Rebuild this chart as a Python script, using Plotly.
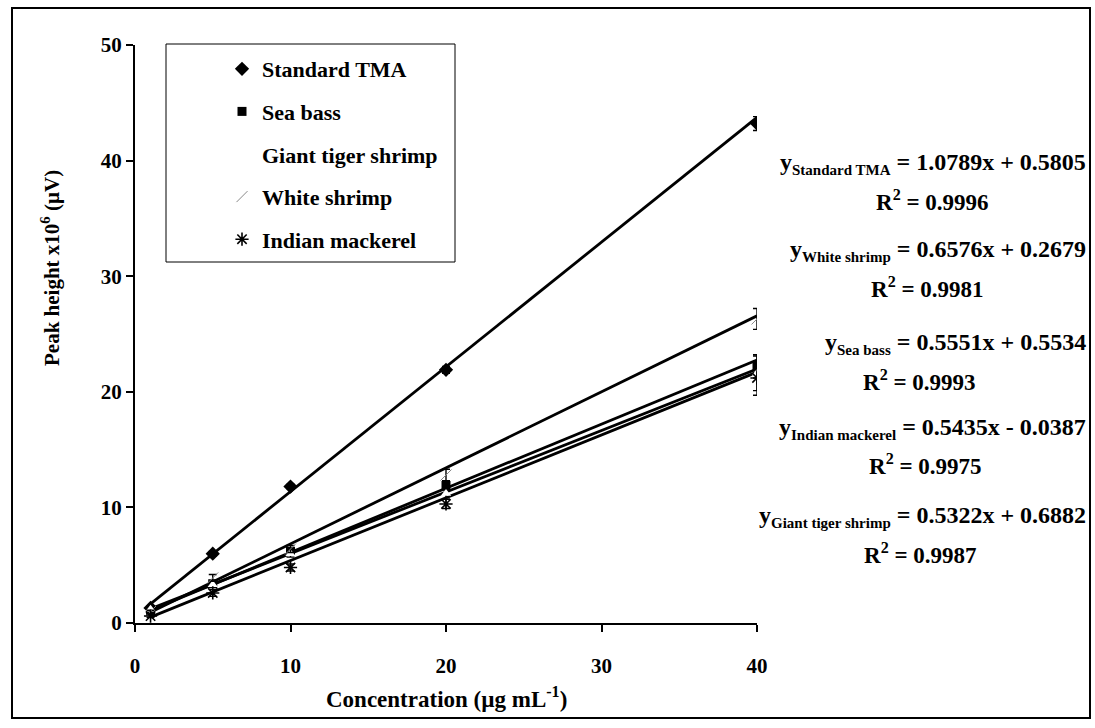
import plotly.graph_objects as go

# Concentrations (µg/mL)
conc = [1, 5, 10, 20, 40]

# Peak heights (x10^6 µV) and standard deviations for each sample
std_tma = [1.3, 6.0, 11.8, 21.9, 43.2]
std_tma_err = [0.2, 0.2, 0.2, 0.3, 0.6]
sea_bass = [1.1, 3.4, 6.2, 11.9, 22.2]
sea_bass_err = [0.2, 0.2, 0.3, 0.4, 1.0]
giant_tiger = [1.2, 3.3, 6.0, 11.2, 21.6]
giant_tiger_err = [0.2, 0.2, 0.3, 0.5, 1.5]
white_shrimp = [1.0, 3.9, 6.4, 12.8, 26.3]
white_shrimp_err = [0.1, 0.3, 0.3, 0.5, 0.9]
indian_mackerel = [0.6, 2.6, 4.8, 10.3, 21.2]
indian_mackerel_err = [0.1, 0.3, 0.3, 0.4, 1.5]

# Linear fits: label, slope, intercept, R²
fit_names = ["Standard TMA", "White shrimp", "Sea bass", "Indian mackerel", "Giant tiger shrimp"]
fit_slopes = [1.0789, 0.6576, 0.5551, 0.5435, 0.5322]
fit_intercepts = [0.5805, 0.2679, 0.5534, -0.0387, 0.6882]
fit_r2 = ["0.9996", "0.9981", "0.9993", "0.9975", "0.9987"]

x_ticks = [0, 10, 20, 30, 40]
y_ticks = [0, 10, 20, 30, 40, 50]

W, H = 1095, 728
FONT = "Liberation Serif"


def px_x(p):
    return p / W


def px_y(p):
    return 1 - p / H


def bold(size):
    return dict(family=FONT, size=size, color="black", weight="bold")


fig = go.Figure()

# Trend lines over the measured range
fit_x = [conc[0], conc[-1]]
for name, m, b in zip(fit_names, fit_slopes, fit_intercepts):
    fig.add_trace(go.Scatter(
        x=fit_x, y=[m * v + b for v in fit_x], mode="lines",
        line=dict(color="black", width=2.8), showlegend=False, hoverinfo="skip",
    ))

series = [
    ("Standard TMA", std_tma, std_tma_err,
     dict(symbol="diamond", size=11, color="black", line=dict(width=0))),
    ("Sea bass", sea_bass, sea_bass_err,
     dict(symbol="square", size=9, color="black", line=dict(width=0))),
    ("Giant tiger shrimp", giant_tiger, giant_tiger_err,
     dict(symbol="triangle-up", size=9, color="white", line=dict(width=0))),
    ("White shrimp", white_shrimp, white_shrimp_err,
     dict(symbol="line-ne", size=11, color="#888888", line=dict(width=1, color="#888888"))),
    ("Indian mackerel", indian_mackerel, indian_mackerel_err,
     dict(symbol="asterisk", size=11, color="black", line=dict(width=1.6, color="black"))),
]

for i, (name, ys, errs, mk) in enumerate(series):
    fig.add_trace(go.Scatter(
        x=conc, y=ys, mode="markers", name=name, marker=mk,
        error_y=dict(type="data", array=errs, visible=True, color="black",
                     thickness=1.4, width=4),
        legendgroup=f"g{i}",
    ))

# Fit equations and R² labels on the right
eq_y = [164, 250, 343, 428, 516]
r2_y = [200, 288, 380, 465, 553]
r2_x = [932, 927, 919, 925, 920]
for name, m, b, r2, ey, ry, rx in zip(fit_names, fit_slopes, fit_intercepts, fit_r2, eq_y, r2_y, r2_x):
    sign = "+" if b >= 0 else "-"
    txt = (f"y<sub><span style='font-size:15px'>{name}</span></sub> = "
           f"{m:.4f}x {sign} {abs(b):.4f}")
    fig.add_annotation(x=px_x(1088), y=px_y(ey), xref="paper", yref="paper",
                       text=txt, showarrow=False, xanchor="right", yanchor="middle",
                       font=bold(24))
    fig.add_annotation(x=px_x(rx), y=px_y(ry), xref="paper", yref="paper",
                       text=f"R<sup>2</sup> = {r2}", showarrow=False,
                       xanchor="center", yanchor="middle", font=bold(23))

# Axis titles
fig.add_annotation(x=px_x(50), y=px_y(268), xref="paper", yref="paper",
                   text="Peak height x10<sup>6</sup> (µV)", textangle=-90,
                   xanchor="center", yanchor="middle",
                   showarrow=False, font=bold(21))
fig.add_annotation(x=px_x(446), y=px_y(697), xref="paper", yref="paper",
                   text="Concentration (µg mL<sup>-1</sup>)",
                   xanchor="center", yanchor="middle",
                   showarrow=False, font=bold(23))

# Outer frame and legend box
fig.add_shape(type="rect", xref="paper", yref="paper",
              x0=px_x(12), x1=px_x(1090), y0=px_y(718), y1=px_y(8),
              line=dict(color="black", width=2))
fig.add_shape(type="rect", xref="paper", yref="paper",
              x0=px_x(166), x1=px_x(455), y0=px_y(262), y1=px_y(44),
              line=dict(color="black", width=1))

axis_common = dict(
    showgrid=False, zeroline=False, showline=True, linecolor="black", linewidth=2,
    ticks="outside", ticklen=7, tickwidth=2, tickcolor="black",
    tickfont=bold(21),
)

fig.update_layout(
    width=W, height=H,
    margin=dict(l=0, r=0, t=0, b=0),
    paper_bgcolor="white", plot_bgcolor="white",
    font=dict(family=FONT, color="black"),
    xaxis=dict(domain=[px_x(135), px_x(757)], range=[0, 40], tickvals=x_ticks,
               anchor="y", automargin=False, ticklabelstandoff=16, **axis_common),
    yaxis=dict(domain=[px_y(623), px_y(45)], range=[0, 50], tickvals=y_ticks,
               anchor="x", automargin=False, **axis_common),
    legend=dict(x=px_x(222), y=px_y(48), xanchor="left", yanchor="top",
                bgcolor="rgba(0,0,0,0)", borderwidth=0,
                font=bold(22), tracegroupgap=11, itemwidth=30),
    showlegend=True,
)

fig.write_html("out.html")
